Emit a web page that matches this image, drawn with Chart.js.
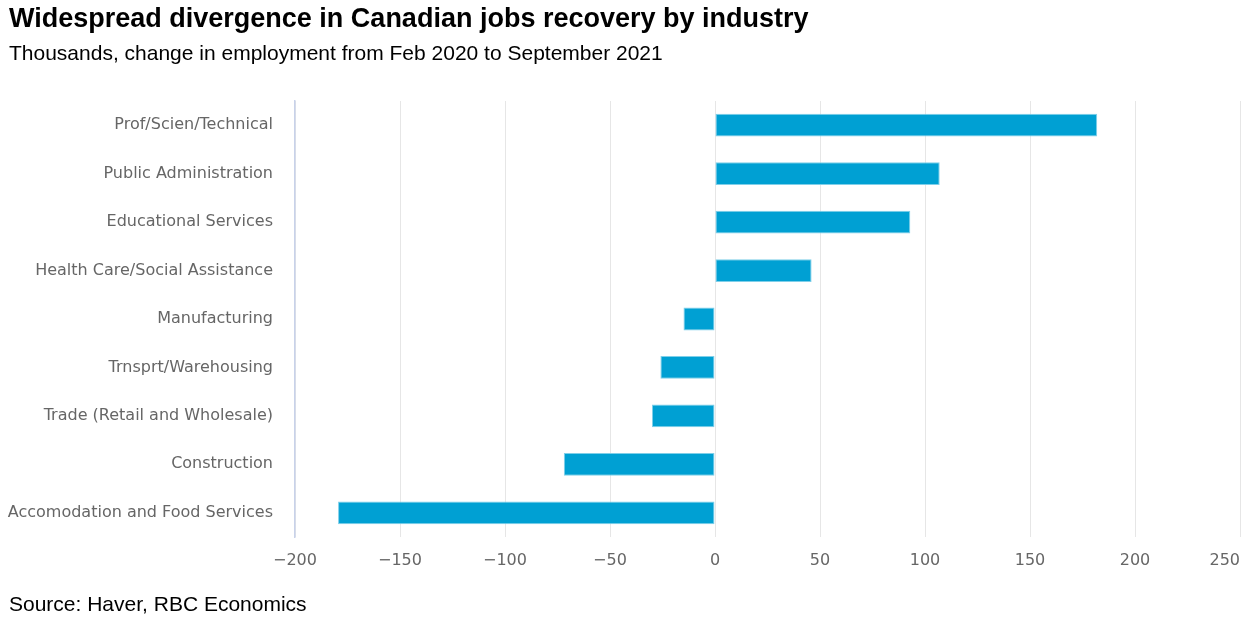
<!DOCTYPE html>
<html>
<head>
<meta charset="utf-8">
<script src="https://cdn.jsdelivr.net/npm/chart.js@4"></script>
<style>
  html, body { margin: 0; padding: 0; background: #fff; width: 1256px; height: 624px; overflow: hidden; }
  #wrap { position: absolute; left: 0; top: 0; width: 1256px; height: 624px; }
  .txt { position: absolute; left: 9px; font-family: "Liberation Sans", Arial, sans-serif; color: #000; white-space: nowrap; line-height: normal; }
  #title { top: 3px; font-size: 27px; font-weight: bold; }
  #subtitle { top: 41px; font-size: 21px; }
  #source { top: 592px; font-size: 21px; }
</style>
</head>
<body>
<div id="wrap"><canvas id="c" width="1256" height="624"></canvas></div>
<div class="txt" id="title">Widespread divergence in Canadian jobs recovery by industry</div>
<div class="txt" id="subtitle">Thousands, change in employment from Feb 2020 to September 2021</div>
<div class="txt" id="source">Source: Haver, RBC Economics</div>
<script>
const categories = [
  "Prof/Scien/Technical",
  "Public Administration",
  "Educational Services",
  "Health Care/Social Assistance",
  "Manufacturing",
  "Trnsprt/Warehousing",
  "Trade (Retail and Wholesale)",
  "Construction",
  "Accomodation and Food Services"
];
const changeValues = [182, 107, 93, 46, -15, -26, -30, -72, -179.5];
const xMin = -200;
const xMax = 250;
const xStep = 50;

const lastLabelFit = {
  id: 'lastLabelFit',
  beforeDraw(chart) {
    const s = chart.scales.x;
    const items = s.getLabelItems(chart.chartArea);
    if (items.length) {
      const last = items[items.length - 1];
      last.options.textAlign = 'right';
    }
  }
};

new Chart(document.getElementById('c'), {
  type: 'bar',
  data: {
    labels: categories,
    datasets: [{
      data: changeValues,
      backgroundColor: '#00a0d3',
      borderColor: '#7fcfe9',
      borderWidth: 1,
      borderSkipped: false,
      barPercentage: 0.47,
      categoryPercentage: 1.0
    }]
  },
  plugins: [lastLabelFit],
  options: {
    indexAxis: 'y',
    responsive: false,
    animation: false,
    layout: { padding: { top: 101, right: 16, bottom: 47, left: 0 } },
    plugins: { legend: { display: false }, tooltip: { enabled: false }, title: { display: false } },
    scales: {
      x: {
        min: xMin, max: xMax,
        ticks: {
          stepSize: xStep,
          color: '#666666',
          font: { family: 'DejaVu Sans', size: 16 },
          padding: 14,
          callback: v => v < 0 ? '\u2212' + Math.abs(v) : String(v)
        },
        grid: { color: '#e6e6e6', lineWidth: 1, drawTicks: false },
        border: { display: false },
        afterFit: s => { s.height = 40; s.paddingLeft = 0; s.paddingRight = 0; }
      },
      y: {
        ticks: {
          color: '#666666',
          font: { family: 'DejaVu Sans', size: 16 },
          padding: 22
        },
        grid: { display: false, drawTicks: false },
        border: { display: true, color: '#c8d2ea', width: 1.5 },
        afterFit: s => { s.width = 295; s.paddingTop = 0; s.paddingBottom = 0; }
      }
    }
  }
});
</script>
</body>
</html>
